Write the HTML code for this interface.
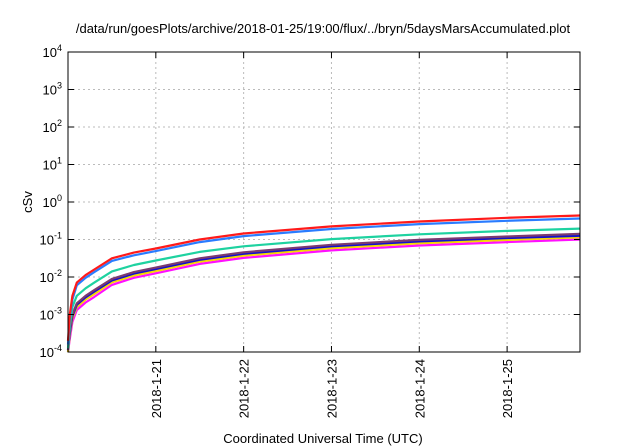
<!DOCTYPE html>
<html><head><meta charset="utf-8"><style>
html,body{margin:0;padding:0;background:#fff;width:640px;height:448px;overflow:hidden}
svg{display:block;font-family:"Liberation Sans",sans-serif}
</style></head><body>
<svg id="chart" width="640" height="448">
<text x="323" y="33" font-size="13" text-anchor="middle">/data/run/goesPlots/archive/2018-01-25/19:00/flux/../bryn/5daysMarsAccumulated.plot</text>
<text transform="translate(32,202) rotate(-90)" font-size="13" text-anchor="middle">cSv</text>
<text x="323" y="443" font-size="13" text-anchor="middle">Coordinated Universal Time (UTC)</text>
<g id="grid"></g><g id="series"></g><g id="axes"></g>
</svg>
<script>
const times=[0,0.02,0.05,0.1,0.2,0.3,0.5,0.75,1,1.5,2,3,4,5,5.83];
const red=[-3.7,-3.0,-2.5,-2.15,-1.95,-1.8,-1.5,-1.35,-1.24,-1.0,-0.84,-0.65,-0.52,-0.42,-0.36];
const lightBlue=[-3.8,-3.1,-2.6,-2.22,-2.02,-1.87,-1.57,-1.42,-1.31,-1.07,-0.91,-0.72,-0.59,-0.5,-0.44];
const teal=[-3.9,-3.3,-2.8,-2.5,-2.3,-2.15,-1.85,-1.68,-1.56,-1.33,-1.18,-0.99,-0.86,-0.77,-0.71];
const purple=[-3.95,-3.45,-3.0,-2.7,-2.5,-2.35,-2.05,-1.87,-1.75,-1.5,-1.34,-1.14,-1.01,-0.92,-0.85];
const darkBlue=[-3.95,-3.5,-3.05,-2.74,-2.54,-2.39,-2.09,-1.91,-1.79,-1.54,-1.38,-1.18,-1.05,-0.96,-0.9];
const yellow=[-4.0,-3.55,-3.1,-2.8,-2.6,-2.45,-2.14,-1.96,-1.84,-1.59,-1.43,-1.23,-1.1,-1.01,-0.94];
const magenta=[-4.0,-3.65,-3.2,-2.88,-2.68,-2.53,-2.21,-2.02,-1.9,-1.65,-1.49,-1.29,-1.16,-1.07,-1.0];
const yTickExp=[-4,-3,-2,-1,0,1,2,3,4];
const xTickDays=[1,2,3,4,5];
const xTickLabels=["2018-1-21","2018-1-22","2018-1-23","2018-1-24","2018-1-25"];

const L=68,R=580,T=52,B=352,XMAX=5.83;
const NS="http://www.w3.org/2000/svg";
const xs=d=>L+d/XMAX*(R-L);
const ys=e=>B-(e+4)/8*(B-T);
function mk(tag,attrs,parent){const el=document.createElementNS(NS,tag);for(const k in attrs)el.setAttribute(k,attrs[k]);parent.appendChild(el);return el;}
const grid=document.getElementById('grid'),axes=document.getElementById('axes'),ser=document.getElementById('series');
yTickExp.forEach(e=>{
  const y=ys(e);
  if(e>-4&&e<4){const g=mk('line',{x1:L,x2:R,y1:y,y2:y,stroke:'#bbb','stroke-dasharray':'2,3','stroke-width':1},grid);
  
  }
  const t=mk('text',{x:L-6,y:y+5,'font-size':13,'text-anchor':'end'},axes);
  
  
  t.textContent='10';
  const s=mk('tspan',{dy:-6,'font-size':9},t);s.textContent=String(e);
  mk('line',{x1:L,x2:L+6,y1:y,y2:y,stroke:'#000'},axes);
  mk('line',{x1:R,x2:R-6,y1:y,y2:y,stroke:'#000'},axes);
});
xTickDays.forEach((d,i)=>{
  const x=xs(d);
  const g=mk('line',{x1:x,x2:x,y1:T,y2:B,stroke:'#bbb','stroke-dasharray':'2,3','stroke-width':1},grid);
  
  
  mk('line',{x1:x,x2:x,y1:B,y2:B-6,stroke:'#000'},axes);
  mk('line',{x1:x,x2:x,y1:T,y2:T+6,stroke:'#000'},axes);
  const t=mk('text',{transform:`translate(${x+5},${B+7}) rotate(-90)`,'font-size':13,'text-anchor':'end'},axes);
  
  
  t.textContent=xTickLabels[i];
});
const fr=mk('rect',{x:L,y:T,width:R-L,height:B-T,fill:'none',stroke:'#000','stroke-width':1},axes);


const list=[[red,'#ff1a1a','series-red'],[lightBlue,'#2a7cff','series-light-blue'],[teal,'#1ed2a0','series-teal'],[purple,'#7b3a70','series-purple'],[darkBlue,'#1010d0','series-dark-blue'],[yellow,'#f5d800','series-yellow'],[magenta,'#ff10ff','series-magenta']];
list.slice().reverse().forEach(([v,c,n])=>{
  const d=v.map((e,i)=>(i?'L':'M')+xs(times[i]).toFixed(1)+','+ys(e).toFixed(1)).join('');
  const p=mk('path',{d:d,fill:'none',stroke:c,'stroke-width':2.2,'stroke-linejoin':'round'},ser);
  
  
});
</script>
</body></html>
